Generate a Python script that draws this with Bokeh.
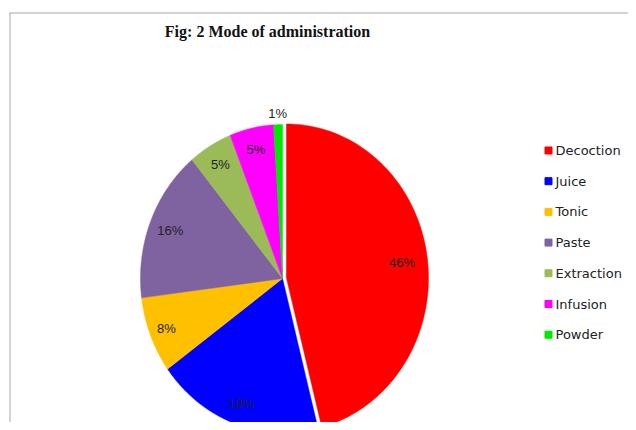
import numpy as np
from bokeh.plotting import figure
from bokeh.models import ColumnDataSource, Range1d, Label, Span
from bokeh.core.properties import value
from bokeh.embed import file_html
from bokeh.resources import INLINE

# ---- data ----
categories = ["Decoction", "Juice", "Tonic", "Paste", "Extraction", "Infusion", "Powder"]
percent = [46, 19, 8, 16, 5, 5, 1]
colors = ["#FF0000", "#0000FF", "#FFC000", "#7F63A1", "#9BBB59", "#FF00FF", "#00E800"]
title_text = "Fig: 2 Mode of administration"

# ---- style / layout ----
CX, CY, RX, RY = 273, 144, 142, 154
explode = [4, 0, 0, 0, 0, 0, 0]
label_r = [0.82, 0.86, 0.88, 0.85, 0.86, 0.86, 1.07]

vals = np.array(percent, dtype=float)
frac = vals / vals.sum()
cum = np.cumsum(frac)
prev = cum - frac
start = np.pi / 2 - 2 * np.pi * prev
end = np.pi / 2 - 2 * np.pi * cum
mid = (start + end) / 2
ex = np.array(explode, dtype=float)
px = CX + ex * np.cos(mid)
py = CY + ex * np.sin(mid)
lf = np.array(label_r)
lx = px + lf * RX * np.cos(mid)
ly = py + lf * RY * np.sin(mid)

xs, ys = [], []
for i in range(len(percent)):
    th = np.linspace(start[i], end[i], 120)
    xs.append(np.concatenate([[px[i]], px[i] + RX * np.cos(th)]))
    ys.append(np.concatenate([[py[i]], py[i] + RY * np.sin(th)]))

src = ColumnDataSource(dict(cat=categories, color=colors, xs=xs, ys=ys,
                            lx=lx, ly=ly, lbl=[f"{v}%" for v in percent]))

p = figure(width=628, height=422, x_range=Range1d(0, 619), y_range=Range1d(0, 410),
           min_border_left=9, min_border_top=12, min_border_right=0, min_border_bottom=0,
           output_backend="svg", toolbar_location=None,
           x_axis_location=None, y_axis_location=None)
p.grid.visible = False
p.outline_line_color = None
p.background_fill_color = "white"
p.border_fill_color = "white"

p.add_layout(Span(location=410, dimension="width", line_color="#a8a8a8", line_width=2))
p.add_layout(Span(location=0, dimension="height", line_color="#a8a8a8", line_width=2))

p.patches(xs="xs", ys="ys", fill_color="color", line_color="color", line_width=0.5,
          source=src)

p.text(x="lx", y="ly", text="lbl", source=src, text_align="center",
       text_baseline="middle", text_font=value("Liberation Sans"),
       text_font_size="13px", text_color="#222222")

# legend
n = len(categories)
leg_y = 272 - np.arange(n) * 30.7
leg_src = ColumnDataSource(dict(cat=categories, color=colors,
                                x=[539] * n, tx=[546] * n, y=leg_y))
p.scatter(x="x", y="y", marker="square", size=7, fill_color="color",
          line_color="color", source=leg_src)
p.text(x="tx", y="y", text="cat", source=leg_src, text_align="left",
       text_baseline="middle", text_font=value("DejaVu Sans"),
       text_font_size="13px", text_color="#222222")

p.add_layout(Label(x=258, y=391, text=title_text, text_align="center",
                   text_baseline="middle", text_font="Liberation Serif",
                   text_font_style="bold", text_font_size="16px",
                   text_color="#111111"))

open("out.html", "w").write(file_html(p, INLINE))
